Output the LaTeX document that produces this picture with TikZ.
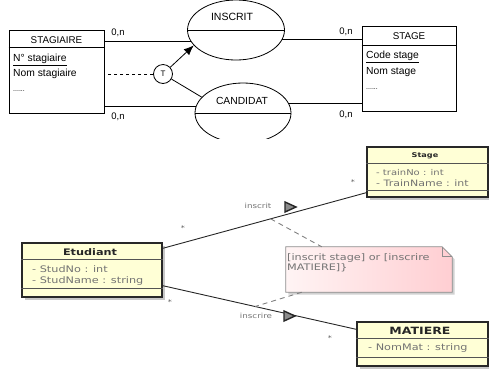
\documentclass[tikz,border=0pt]{standalone}
\usepackage{fontspec}
\setmainfont{Liberation Sans}
\newfontfamily\umlfont[FakeStretch=1.25]{DejaVu Sans}
\usetikzlibrary{shapes.geometric,shadows,arrows.meta,calc}
\definecolor{umlyellow}{RGB}{255,255,214}
\definecolor{umlborder}{RGB}{40,40,40}
\definecolor{notepinkA}{RGB}{255,244,244}
\definecolor{notepinkB}{RGB}{255,206,210}
\definecolor{umltext}{RGB}{115,115,115}
\tikzset{
  erline/.style={draw=black, line width=0.8pt},
  erbox/.style={rectangle, draw=black, line width=0.8pt, inner sep=0pt},
  ell/.style={ellipse, draw=black, line width=0.8pt, inner sep=0pt, minimum width=97pt, minimum height=60pt},
  ertitle/.style={inner sep=0pt, font=\fontsize{9.8}{11}\selectfont},
  erattr/.style={inner sep=0pt, anchor=west, font=\fontsize{10.3}{12}\selectfont},
  card/.style={inner sep=0pt, font=\fontsize{9.5}{11}\selectfont},
  umlbox/.style={rectangle, draw=umlborder, line width=1.3pt, fill=umlyellow, inner sep=0pt,
    drop shadow={shadow xshift=2.5pt, shadow yshift=-2.5pt, fill=black!40, opacity=0.55}},
  umlsep/.style={draw=umlborder!80, line width=0.6pt},
  umltitle/.style={inner sep=0pt, font=\umlfont\bfseries\fontsize{9}{10}\selectfont, text=black!85},
  umlattr/.style={inner sep=0pt, anchor=west, font=\umlfont\fontsize{9}{10}\selectfont, text=umltext},
  assoc/.style={draw=black!85, line width=0.9pt},
  notelink/.style={draw=black!50, line width=0.9pt, dash pattern=on 5pt off 4pt},
  mult/.style={inner sep=0pt, font=\umlfont\fontsize{6.5}{6}\selectfont, text=black!65},
  navtri/.style={draw=black!85, line width=1.4pt, fill=black!45, line join=miter},
  asslabel/.style={inner sep=0pt, font=\umlfont\fontsize{7}{8}\selectfont, text=umltext},
}
\begin{document}
\begin{tikzpicture}[x=1pt,y=-1pt]
\useasboundingbox (0,0) rectangle (489,368);

% ---------------- Top: Merise diagram ----------------
\node[erbox, minimum width=95pt, minimum height=83pt] (stagiaire) at (56.5,71.5) {};
\draw[erline] ($(stagiaire.north west)+(0,18)$) -- ($(stagiaire.north east)+(0,18)$);
\node[ertitle] (stagiaireT) at (56.5,40) {STAGIAIRE};
\node[erattr] (sa1) at (13,60) {\underline{N° stagiaire}};
\node[erattr] (sa2) at (13,74) {Nom stagiaire};
\node[erattr, font=\fontsize{7}{8}\selectfont] (sa3) at (13,91) {......};

\node[erbox, minimum width=94pt, minimum height=85pt] (stage) at (409,68.5) {};
\draw[erline] ($(stage.north west)+(0,20)$) -- ($(stage.north east)+(0,20)$);
\node[ertitle] (stageT) at (409,36) {STAGE};
\node[erattr] (st1) at (366,57) {\underline{Code stage}};
\node[erattr] (st2) at (366,72) {Nom stage};
\node[erattr, font=\fontsize{7}{8}\selectfont] (st3) at (366,89) {......};

\node[ell] (inscrit) at (236,30) {};
\draw[erline] (inscrit.west) -- (inscrit.east);
\node[ertitle, font=\fontsize{10.5}{12}\selectfont] (inscritT) at (232,17) {INSCRIT};

\begin{scope}
  \clip (150,60) rectangle (320,138.5);
  \node[ell, minimum width=96pt] (candidat) at (243,113) {};
  \draw[erline] (candidat.west) -- (candidat.east);
\end{scope}
\node[ertitle, font=\fontsize{10.3}{12}\selectfont] (candidatT) at (242,101) {CANDIDAT};

\node[circle, draw=black, line width=0.8pt, minimum size=19pt, inner sep=0pt, font=\fontsize{8}{8}\selectfont] (t) at (163,74) {T};

\draw[erline] (inscrit.194) -- (inscrit.194 -| stagiaire.east);
\draw[erline] (inscrit.348) -- (inscrit.348 -| stage.west);
\draw[erline] (candidat.172) -- (candidat.172 -| stagiaire.east);
\draw[erline] (candidat.12) -- (candidat.12 -| stage.west);
\draw[erline, dashed] (t.west) -- (t.west -| stagiaire.east);
\draw[erline, -{Latex[length=10pt,width=8pt]}] (t) -- (inscrit.200);
\draw[erline] (t) -- (candidat.159);

\node[card] (c1) at (118,33) {0,n};
\node[card] (c2) at (118,117) {0,n};
\node[card] (c3) at (346,32) {0,n};
\node[card] (c4) at (346,115) {0,n};

% ---------------- Bottom: UML diagram ----------------
\node[umlbox, minimum width=140pt, minimum height=54pt] (etud) at (92,270) {};
\draw[umlsep] ($(etud.north west)+(0,17)$) -- ($(etud.north east)+(0,17)$);
\draw[umlsep] ($(etud.south west)+(0,-9)$) -- ($(etud.south east)+(0,-9)$);
\node[umltitle] (etudT) at (90,252) {Etudiant};
\node[umlattr] (ea1) at (32,269) {- StudNo : int};
\node[umlattr] (ea2) at (32,281) {- StudName : string};

\node[umlbox, minimum width=121pt, minimum height=50pt] (stg) at (427.5,172) {};
\draw[umlsep] ($(stg.north west)+(0,17)$) -- ($(stg.north east)+(0,17)$);
\draw[umlsep] ($(stg.south west)+(0,-7)$) -- ($(stg.south east)+(0,-7)$);
\node[umltitle, font=\umlfont\bfseries\fontsize{6.5}{8}\selectfont] (stgT) at (425,156) {Stage};
\node[umlattr, font=\umlfont\fontsize{8}{9}\selectfont] (sg1) at (376,173) {- trainNo : int};
\node[umlattr, font=\umlfont\fontsize{8.8}{9}\selectfont] (sg2) at (376,183) {- TrainName : int};

\node[umlbox, minimum width=131pt, minimum height=44pt] (mat) at (422.5,344) {};
\draw[umlsep] ($(mat.north west)+(0,17)$) -- ($(mat.north east)+(0,17)$);
\draw[umlsep] ($(mat.south west)+(0,-9)$) -- ($(mat.south east)+(0,-9)$);
\node[umltitle, font=\umlfont\bfseries\fontsize{10}{11}\selectfont] (matT) at (420,331) {MATIERE};
\node[umlattr] (ma1) at (368,348) {- NomMat : string};

% note
\node[minimum width=166pt, minimum height=45pt, inner sep=0pt] (note) at (369,269.5) {};
\path[draw=black!45, line width=0.8pt, left color=notepinkA, right color=notepinkB,
      drop shadow={shadow xshift=2.5pt, shadow yshift=-2.5pt, fill=black!40, opacity=0.45}]
  (note.south west) -- (note.north west) -- ($(note.north east)+(-10,0)$)
  -- ($(note.north east)+(0,10)$) -- (note.south east) -- cycle;
\draw[draw=black!45, line width=0.8pt] ($(note.north east)+(-10,0)$) -- ($(note.north east)+(-10,10)$) -- ($(note.north east)+(0,10)$);
\node[umlattr, font=\umlfont\fontsize{9}{10}\selectfont] (nt1) at (287,258) {[inscrit stage] or [inscrire};
\node[umlattr, font=\umlfont\fontsize{9}{10}\selectfont] (nt2) at (287,268) {MATIERE]\}};

% associations
\coordinate (e1) at ($(etud.north east)+(0,6)$);
\coordinate (s1) at ($(stg.south west)+(0,-5)$);
\coordinate (e2) at ($(etud.south east)+(0,-12)$);
\coordinate (m1) at ($(mat.north west)+(0,8)$);
\draw[assoc] (e1) -- (s1);
\draw[assoc] (e2) -- (m1);
\coordinate (l1) at ($(e1)!0.53!(s1)$);
\coordinate (l2) at ($(e2)!0.477!(m1)$);
\draw[notelink] (l1) -- ($(note.north west)+(36,0)$);
\draw[notelink] ($(note.south west)+(16,0)$) -- (l2);

\node[asslabel] (lab1) at (258,206) {inscrit};
\draw[navtri] (285,202) -- (296,207) -- (285,212) -- cycle;
\node[asslabel] (lab2) at (256,316) {inscrire};
\draw[navtri] (284,311) -- (295,316) -- (284,321) -- cycle;

\node[mult] (m1a) at (183,228) {*};
\node[mult] (m1b) at (353,182) {*};
\node[mult] (m2a) at (170,302) {*};
\node[mult] (m2b) at (330,338) {*};
\end{tikzpicture}
\end{document}
